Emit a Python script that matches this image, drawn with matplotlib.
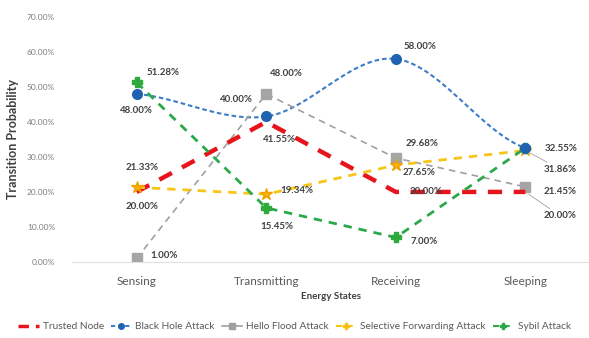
import numpy as np
import matplotlib.pyplot as plt
from matplotlib.lines import Line2D

plt.rcParams['font.family'] = ['Lato', 'DejaVu Sans']

# Estados de energía y probabilidades de transición (%)
estados = ['Sensing', 'Transmitting', 'Receiving', 'Sleeping']
trusted = [20.00, 40.00, 20.00, 20.00]
black_hole = [48.00, 41.55, 58.00, 32.55]
hello_flood = [1.00, 48.00, 29.68, 21.45]
selective = [21.33, 19.34, 27.65, 31.86]
sybil = [51.28, 15.45, 7.00, 32.55]
ticks_y = [0, 10, 20, 30, 40, 50, 60, 70]


def suavizar(y, n=40):
    # curva suave tipo Catmull-Rom entre los puntos
    y = np.asarray(y, dtype=float)
    k = len(y)
    m = np.zeros(k)
    for i in range(k):
        a = y[max(i - 1, 0)]
        b = y[min(i + 1, k - 1)]
        m[i] = (b - a) / 2
    xs, ys = [], []
    for i in range(k - 1):
        t = np.linspace(0, 1, n)
        h00 = 2 * t**3 - 3 * t**2 + 1
        h10 = t**3 - 2 * t**2 + t
        h01 = -2 * t**3 + 3 * t**2
        h11 = t**3 - t**2
        xs.append(i + t)
        ys.append(h00 * y[i] + h10 * m[i] + h01 * y[i + 1] + h11 * m[i + 1])
    return np.concatenate(xs), np.concatenate(ys)


fig = plt.figure(figsize=(5.89, 3.38), dpi=100)
ax = fig.add_axes([0.122, 0.225, 0.88, 0.725])
x = np.arange(len(estados))

c_rojo = '#E8141B'
c_azul = '#3C7CC8'
c_gris = '#A0A0A0'
c_amar = '#F5C518'
c_verde = '#2BA84A'

ax.plot(x, trusted, color=c_rojo, lw=3.2, dashes=(3.2, 2.6), zorder=3)
xs, ys = suavizar(black_hole)
ax.plot(xs, ys, color=c_azul, lw=1.5, dashes=(2.2, 1.4), zorder=2)
ax.plot(x, black_hole, ls='none', marker='o', ms=7, color='#1F63B0', zorder=4)
ax.plot(x, hello_flood, color=c_gris, lw=1.2, dashes=(4, 3), marker='s', ms=7,
        mfc='#A5A5A5', mec='#A5A5A5', zorder=2)
ax.plot(x, selective, color=c_amar, lw=2, dashes=(3, 2.5), marker='*', ms=9,
        mfc='#F7B500', mec='#F0A000', zorder=3)
ax.plot(x, sybil, color=c_verde, lw=2, dashes=(3, 2.5), marker='P', ms=7,
        mfc='#2EAA3C', mec='#2EAA3C', zorder=3)

# Etiquetas de datos con desplazamiento en píxeles
desplaz = {
    'trusted': [(5, -15), (-30, 22), (30, 0), (35, -24)],
    'black_hole': [(0, -17), (13, -23), (24, 12), (36, 0)],
    'hello_flood': [(27, 3), (20, 20), (26, 15), (35, -5)],
    'selective': [(5, 20), (31, 4), (23, -7), (35, -19)],
    'sybil': [(26, 10), (11, -19), (28, -4), (36, 0)],
}
series = {'trusted': trusted, 'black_hole': black_hole, 'hello_flood': hello_flood,
          'selective': selective, 'sybil': sybil}
for nombre, valores in series.items():
    for i, v in enumerate(valores):
        if nombre == 'black_hole' and i == 3:
            continue
        dx, dy = desplaz[nombre][i]
        lider = None
        if i == 3 and nombre in ('trusted', 'selective'):
            lider = dict(arrowstyle='-', color='#A0A0A0', lw=0.6, shrinkA=0, shrinkB=3)
        ax.annotate(f'{v:.2f}%', (i, v), xytext=(dx, dy), textcoords='offset pixels',
                    ha='center', va='center', fontsize=7, fontweight='bold',
                    color='#404040', arrowprops=lider, zorder=5)

ax.set_xlim(-0.5, len(estados) - 0.5)
ax.set_ylim(0, 70)
ax.set_yticks(ticks_y)
ax.set_yticklabels([f'{t:.2f}%' for t in ticks_y], fontsize=6, color='#7F7F7F')
ax.set_xticks(x)
ax.set_xticklabels(estados, fontsize=8.5, color='#595959')
ax.tick_params(length=0, pad=10)
ax.tick_params(axis='y', pad=12)
for lado in ['top', 'right', 'left']:
    ax.spines[lado].set_visible(False)
ax.spines['bottom'].set_color('#E0E0E0')
ax.set_xlabel('Energy States', fontsize=7, fontweight='bold', color='#404040', labelpad=4)
ax.set_ylabel('Transition Probability', fontsize=9, fontweight='bold', color='#404040',
              labelpad=6)

manejadores = [
    Line2D([], [], color=c_rojo, lw=2.5, dashes=(3, 2)),
    Line2D([], [], color=c_azul, lw=1.5, dashes=(2, 1.4), marker='o', ms=4,
           mfc='#1F63B0', mec='#1F63B0'),
    Line2D([], [], color=c_gris, lw=1.2, marker='s', ms=4),
    Line2D([], [], color=c_amar, lw=1.5, dashes=(3, 2), marker='P', ms=5, mfc='#F7B500'),
    Line2D([], [], color=c_verde, lw=1.5, dashes=(3, 2), marker='P', ms=5),
]
nombres = ['Trusted Node', 'Black Hole Attack', 'Hello Flood Attack',
           'Selective Forwarding Attack', 'Sybil Attack']
fig.legend(manejadores, nombres, loc='center', bbox_to_anchor=(0.5, 0.033), ncol=5,
           fontsize=7.3, frameon=False, handlelength=2.0, columnspacing=0.7,
           handletextpad=0.4, borderpad=0.1, labelcolor='#595959')

fig.savefig('out.png', dpi=100)
